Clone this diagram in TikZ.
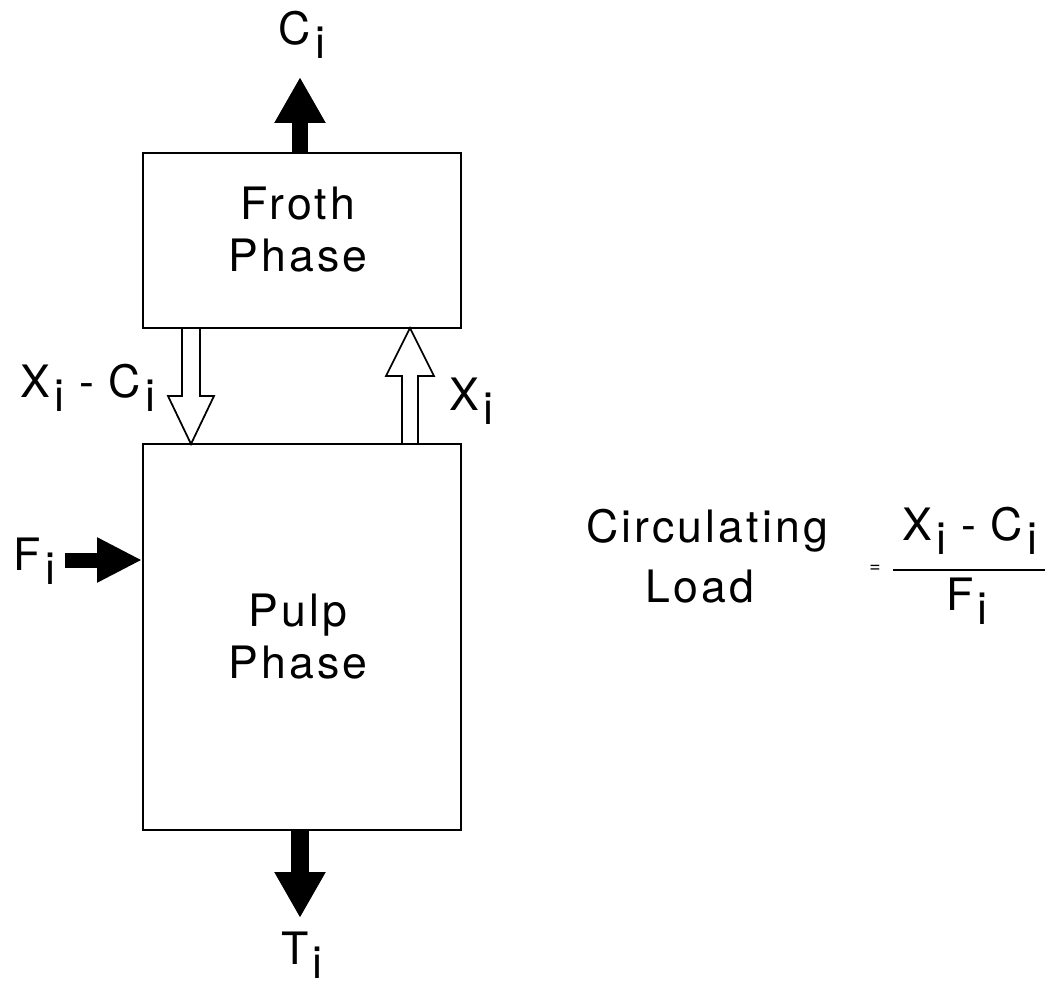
\documentclass[tikz,border=0pt]{standalone}
\usepackage{fontspec}
\setmainfont{TeX Gyre Heros}[LetterSpace=7]
\usetikzlibrary{positioning,calc,arrows.meta}

\newcommand{\lowi}{\hspace{0.1em}\raisebox{-0.32em}{i}}
\newcommand{\gapdash}{\hspace{0.33em}-\hspace{0.33em}}

\begin{document}
\begin{tikzpicture}[x=0.02cm, y=-0.02cm,
    every node/.style={font=\fontsize{25.4}{29.6}\selectfont, inner sep=0pt},
    phasebox/.style={draw, line width=1.1pt, minimum width=6.36cm},
    phasetext/.style={align=center},
    solidarrow/.style={line width=#1, -{Triangle[length=0.92cm, width=0.96cm]}},
    hollowarrow/.style={line width=1pt, line join=miter}]

    \useasboundingbox (0,0) rectangle (1051,987);

    % the two phases
    \node[phasebox, minimum height=3.5cm] (froth) at (302,240.5) {};
    \node[phasebox, minimum height=7.72cm] (pulp) at (302,637) {};
    \node[phasetext] (frothlabel) at (298,230) {Froth\\Phase};
    \node[phasetext] (pulplabel) at (298,637) {Pulp\\Phase};

    % streams in and out
    \node[anchor=base] (ci) at (302,44) {C\lowi};
    \node[anchor=base] (ti) at (302,964) {T\lowi};
    \node[anchor=base west] (fi) at (13,570) {F\lowi};
    \coordinate (citip) at (300,77);
    \coordinate (titip) at (300,918);
    \coordinate (fitail) at (65,560);

    \draw[solidarrow=0.32cm] (froth.north -| citip) -- (citip);
    \draw[solidarrow=0.36cm] (pulp.south -| titip) -- (titip);
    \draw[line width=0.3cm, -{Triangle[length=0.9cm, width=0.84cm]}] (fitail) -- (fitail -| pulp.west);

    % exchange between pulp and froth
    \coordinate (dtop) at (191,328);
    \coordinate (dtip) at (191,444);
    \coordinate (ubot) at (410,444);
    \coordinate (utip) at (410,328);
    \draw[hollowarrow] ($(dtop)+(-9,0)$) -- ($(dtop)+(-9,68)$) -- ($(dtop)+(-23,68)$)
        -- (dtip) -- ($(dtop)+(23,68)$) -- ($(dtop)+(9,68)$) -- ($(dtop)+(9,0)$);
    \draw[hollowarrow] ($(ubot)+(-8,0)$) -- ($(ubot)+(-8,-68)$) -- ($(ubot)+(-24,-68)$)
        -- (utip) -- ($(ubot)+(24,-68)$) -- ($(ubot)+(8,-68)$) -- ($(ubot)+(8,0)$);
    \node[anchor=base west] (xmc) at (20,397) {X\lowi\gapdash C\lowi};
    \node[anchor=base west] (xi) at (449,410) {X\lowi};

    % circulating load
    \node[anchor=base] (circ) at (707,542) {Circulating};
    \node[anchor=base] (load) at (700,602) {Load};
    \node (eq) at (875,569) {\fontsize{11}{11}\selectfont =};
    \node[anchor=base] (num) at (970,540) {X\lowi\gapdash C\lowi};
    \node[anchor=base] (den) at (967,610) {F\lowi};
    \draw[line width=0.9pt] (893,570) -- (1045,570);

\end{tikzpicture}
\end{document}
